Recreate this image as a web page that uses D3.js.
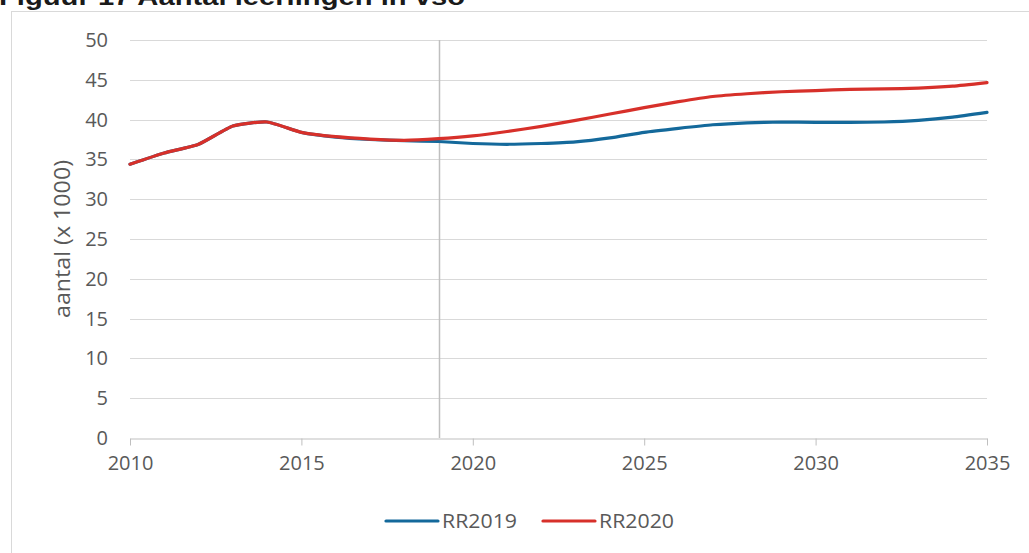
<!DOCTYPE html>
<html>
<head>
<meta charset="utf-8">
<script src="https://cdn.jsdelivr.net/npm/d3@7"></script>
<style>
  body { margin: 0; background: #fff; }
  svg { display: block; }
</style>
</head>
<body>
<div id="chart"></div>
<script>
// Data (x 1000 leerlingen)
const years = d3.range(2010, 2036);
const rr2019 = [34.4, 35.8, 36.9, 39.2, 39.7, 38.4, 37.8, 37.5, 37.35, 37.25, 37.0, 36.9, 37.0, 37.2, 37.7, 38.4, 38.9, 39.35, 39.6, 39.7, 39.65, 39.65, 39.7, 39.9, 40.3, 40.9];
const rr2020 = [34.4, 35.8, 36.9, 39.2, 39.7, 38.4, 37.85, 37.55, 37.4, 37.6, 37.95, 38.5, 39.15, 39.9, 40.7, 41.5, 42.25, 42.9, 43.25, 43.5, 43.65, 43.8, 43.85, 43.95, 44.2, 44.65];
const yTicks = [0, 5, 10, 15, 20, 25, 30, 35, 40, 45, 50];
const xTicks = [2010, 2015, 2020, 2025, 2030, 2035];
const markerYear = 2019;
const seriesNames = ["RR2019", "RR2020"];

// Layout
const W = 1029, H = 553;
const plot = { left: 130, right: 987, top: 40, bottom: 438 };
const colors = { "RR2019": "#14699b", "RR2020": "#d7302a" };
const font = "'Open Sans', 'Noto Sans', sans-serif";

const svg = d3.select("#chart").append("svg")
    .attr("width", W)
    .attr("height", H);

// Chart area border
svg.append("rect")
    .attr("x", 11.5).attr("y", 11.5)
    .attr("width", W + 20).attr("height", H + 20)
    .attr("fill", "none")
    .attr("stroke", "#d9d9d9");

// Title (cut off at the top in the original)
svg.append("text")
    .attr("x", -1).attr("y", 5)
    .attr("font-family", "'Liberation Sans', Arial, sans-serif")
    .attr("font-weight", "bold")
    .attr("font-size", 24)
    .attr("textLength", 466)
    .attr("lengthAdjust", "spacingAndGlyphs")
    .attr("fill", "#1a1a1a")
    .text("Figuur 17 Aantal leerlingen in vso");

// Scales
const x = d3.scaleLinear().domain([2010, 2035]).range([plot.left, plot.right]);
const y = d3.scaleLinear().domain([0, 50]).range([plot.bottom, plot.top]);

// Horizontal grid lines
svg.append("g")
    .selectAll("line")
    .data(yTicks.filter(d => d > 0))
    .join("line")
    .attr("x1", plot.left).attr("x2", plot.right)
    .attr("y1", d => Math.round(y(d)) + 0.5)
    .attr("y2", d => Math.round(y(d)) + 0.5)
    .attr("stroke", "#d9d9d9")
    .attr("stroke-width", 1);

// Y axis labels
const yAxis = svg.append("g")
    .attr("transform", `translate(${plot.left},0)`)
    .call(d3.axisLeft(y).tickValues(yTicks).tickSize(0).tickPadding(22));
yAxis.select(".domain").remove();
yAxis.selectAll("text")
    .attr("font-family", font)
    .attr("font-size", 20)
    .attr("fill", "#595959");

// Y axis title
svg.append("text")
    .attr("transform", `translate(70,${(plot.top + plot.bottom) / 2}) rotate(-90)`)
    .attr("text-anchor", "middle")
    .attr("font-family", font)
    .attr("font-size", 22)
    .attr("textLength", 158)
    .attr("lengthAdjust", "spacingAndGlyphs")
    .attr("fill", "#595959")
    .text("aantal (x 1000)");

// Marker line at 2019
svg.append("line")
    .attr("x1", Math.round(x(markerYear)) + 0.5)
    .attr("x2", Math.round(x(markerYear)) + 0.5)
    .attr("y1", plot.top)
    .attr("y2", plot.bottom)
    .attr("stroke", "#bfbfbf")
    .attr("stroke-width", 1.5);

// X axis
const xAxis = svg.append("g")
    .attr("transform", `translate(0,${plot.bottom + 0.5})`)
    .call(d3.axisBottom(x).tickValues(xTicks).tickFormat(d3.format("d")).tickSizeInner(7).tickSizeOuter(0).tickPadding(10));
xAxis.select(".domain").attr("stroke", "#bfbfbf");
xAxis.selectAll(".tick line").attr("stroke", "#bfbfbf");
xAxis.selectAll("text")
    .attr("font-family", font)
    .attr("font-size", 20)
    .attr("fill", "#595959");

// Lines (smoothed like the original)
const line = d3.line()
    .x((d, i) => x(years[i]))
    .y(d => y(d))
    .curve(d3.curveCardinal.tension(0.5));

const series = { "RR2019": rr2019, "RR2020": rr2020 };
seriesNames.forEach(name => {
    svg.append("path")
        .datum(series[name])
        .attr("fill", "none")
        .attr("stroke", colors[name])
        .attr("stroke-width", 3.2)
        .attr("stroke-linecap", "round")
        .attr("stroke-linejoin", "round")
        .attr("d", line);
});

// Legend
const legendX = [386, 543];
const legend = svg.append("g");
seriesNames.forEach((name, i) => {
    const g = legend.append("g").attr("transform", `translate(${legendX[i]},521)`);
    g.append("line")
        .attr("x1", 0).attr("x2", 52)
        .attr("stroke", colors[name])
        .attr("stroke-width", 3.2)
        .attr("stroke-linecap", "round");
    g.append("text")
        .attr("x", 56)
        .attr("dy", "0.35em")
        .attr("font-family", font)
        .attr("font-size", 20)
        .attr("textLength", 75)
        .attr("lengthAdjust", "spacingAndGlyphs")
        .attr("fill", "#595959")
        .text(name);
});
</script>
</body>
</html>
